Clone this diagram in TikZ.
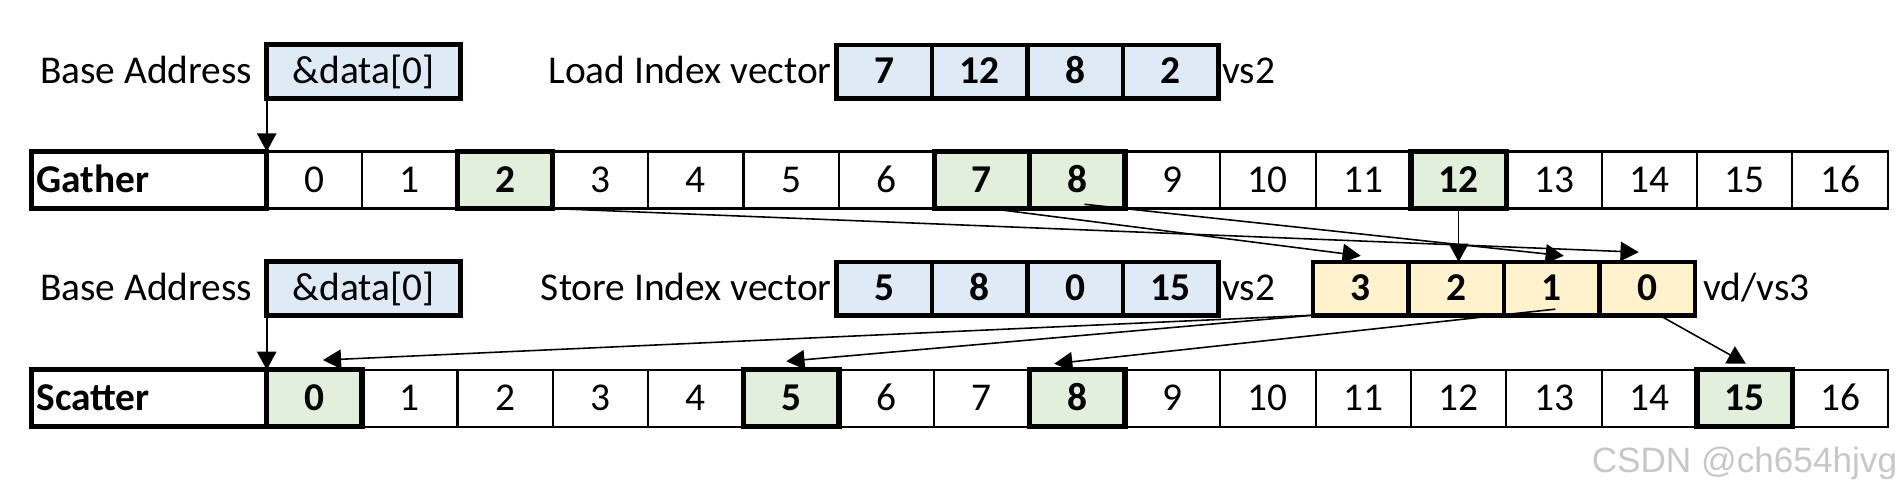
\documentclass[tikz,border=0pt]{standalone}
\usepackage{fontspec}
\setmainfont{Carlito}
\newfontfamily\wmfont{Liberation Sans}
\usetikzlibrary{arrows.meta,calc}
\definecolor{bfill}{HTML}{DEEBF7}
\definecolor{gfill}{HTML}{E2EFDA}
\definecolor{ofill}{HTML}{FFF2CC}
\tikzset{
  basetxt/.style={inner sep=0pt, outer sep=0pt, text height=20.5pt, text depth=0pt, font=\fontsize{32.5}{38}\selectfont},
  cellplain/.style={basetxt, draw, line width=1.8pt, minimum width=78.65pt, minimum height=47pt},
  cellhl/.style={basetxt, draw, line width=4.4pt, fill=gfill, minimum width=78.65pt, minimum height=47pt, font=\fontsize{32.5}{38}\selectfont\bfseries},
  rowlabel/.style={basetxt, draw, line width=4.4pt, minimum height=47pt, text width=186pt, align=left, inner xsep=4pt, font=\fontsize{32.5}{38}\selectfont\bfseries},
  vecbox/.style={basetxt, draw, line width=3.8pt, minimum width=78.75pt, minimum height=44pt, font=\fontsize{32.5}{38}\selectfont\bfseries},
  addrbox/.style={basetxt, draw, line width=4.2pt, fill=bfill, minimum width=160pt, minimum height=44pt},
  txt/.style={basetxt},
  arr/.style={line width=1.3pt, -{Triangle[length=15pt,width=16pt]}},
}
\begin{document}
\begin{tikzpicture}[x=1pt,y=-1pt]
\useasboundingbox (0,0) rectangle (1568,408);
% ---------- top row ----------
\node[addrbox] (ba1) at (300,59) {\&data[0]};
\node[txt, anchor=east] (bat1) at ($(ba1.west)+(-12,0)$) {Base Address};
\foreach \v [count=\k] in {7,12,8,2}
  \node[vecbox, fill=bfill] (li\k) at ({690+(\k-0.5)*78.75},59) {\v};
\node[txt, anchor=east] (lt) at ($(li1.west)+(-4,0)$) {Load Index vector};
\node[txt, anchor=west] (vs2a) at ($(li4.east)+(3,0)$) {vs2};
% ---------- gather row ----------
\node[rowlabel] (gl) at (123,148.5) {Gather};
\foreach \i in {0,1,3,4,5,6,9,10,11,13,14,15,16}
  \node[cellplain] (g\i) at ({220+(\i+0.5)*78.65},148.5) {\i};
\foreach \i in {2,7,8,12}
  \node[cellhl] (g\i) at ({220+(\i+0.5)*78.65},148.5) {\i};
% ---------- third row ----------
\node[addrbox] (ba2) at (300,238) {\&data[0]};
\node[txt, anchor=east] (bat2) at ($(ba2.west)+(-12,0)$) {Base Address};
\foreach \v [count=\k] in {5,8,0,15}
  \node[vecbox, fill=bfill] (si\k) at ({690+(\k-0.5)*78.75},238) {\v};
\node[txt, anchor=east] (st) at ($(si1.west)+(-4,0)$) {Store Index vector};
\node[txt, anchor=west] (vs2b) at ($(si4.east)+(3,0)$) {vs2};
\foreach \v [count=\k] in {3,2,1,0}
  \node[vecbox, fill=ofill] (vd\v) at ({1083+(\k-0.5)*78.75},238) {\v};
\node[txt, anchor=west] (vdt) at ($(vd0.east)+(7,0)$) {vd/vs3};
% ---------- scatter row ----------
\node[rowlabel] (sl) at (123,328.5) {Scatter};
\foreach \i in {1,2,3,4,6,7,9,10,11,12,13,14,16}
  \node[cellplain] (s\i) at ({220+(\i+0.5)*78.65},328.5) {\i};
\foreach \i in {0,5,8,15}
  \node[cellhl] (s\i) at ({220+(\i+0.5)*78.65},328.5) {\i};
% ---------- arrows ----------
\draw[arr] (ba1.south west) -- (gl.north east);
\draw[arr] (ba2.south west) -- (sl.north east);
\draw[arr] (g2.south east) -- ($(vd0.north)+(-7,-8)$);
\draw[arr] ($(g7.south)+(7,0)$) -- ($(vd3.north)+(0,-5)$);
\draw[arr] ($(g8.center)+(6,20)$) -- ($(vd1.north)+(10,-5)$);
\draw[arr] (g12.south) -- (g12.south |- vd2.north);
\draw[arr] (vd3.south west) -- ($(s0.north)+(7,-8)$);
\draw[arr] (vd3.south west) -- ($(s5.north)+(-4,-7)$);
\draw[arr] ($(vd1.center)+(3,17)$) -- ($(s8.north)+(-19,-5)$);
\draw[arr] ($(vd0.south)+(10,0)$) -- ($(s15.north)+(1,-5)$);
% ---------- watermark ----------
\node[anchor=east, inner sep=0pt, text=black!22, font=\wmfont\fontsize{29}{30}\selectfont] (wm) at (1565,382) {CSDN @ch654hjvg};
\end{tikzpicture}
\end{document}
